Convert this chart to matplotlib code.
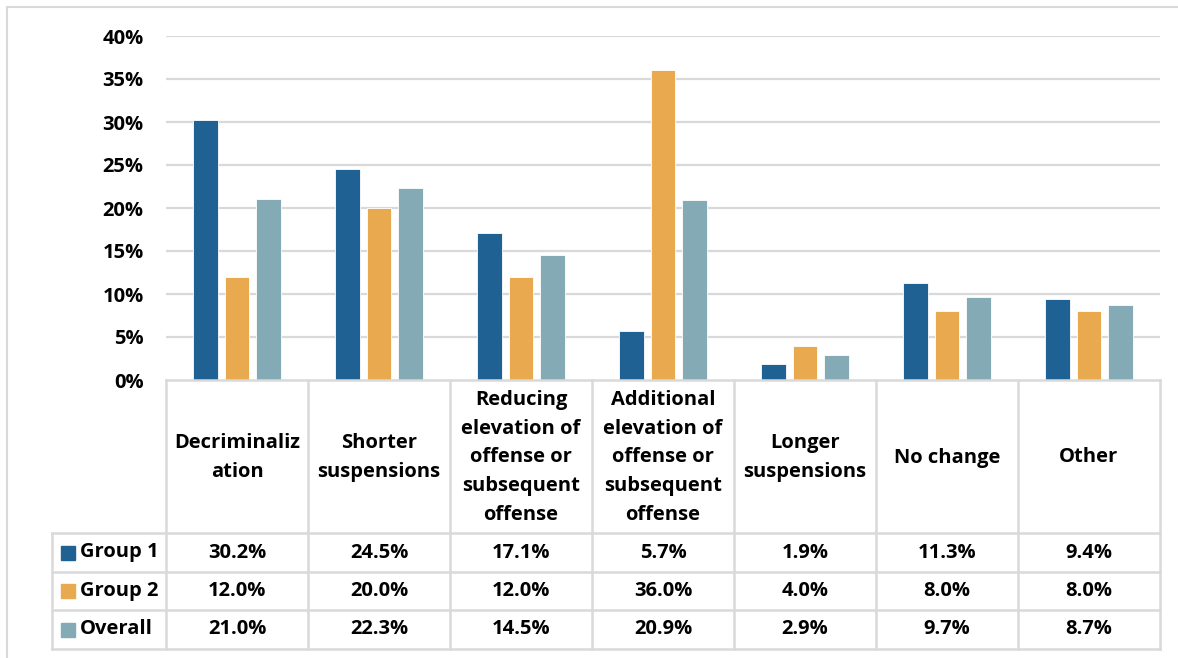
import matplotlib
matplotlib.use("Agg")
import matplotlib.pyplot as plt
from matplotlib.patches import Rectangle
from matplotlib.lines import Line2D

# ---- data -------------------------------------------------------------
categories = [
    "Decriminaliz\nation",
    "Shorter\nsuspensions",
    "Reducing\nelevation of\noffense or\nsubsequent\noffense",
    "Additional\nelevation of\noffense or\nsubsequent\noffense",
    "Longer\nsuspensions",
    "No change",
    "Other",
]
series_names = ["Group 1", "Group 2", "Overall"]
group1 = [30.2, 24.5, 17.1, 5.7, 1.9, 11.3, 9.4]
group2 = [12.0, 20.0, 12.0, 36.0, 4.0, 8.0, 8.0]
overall = [21.0, 22.3, 14.5, 20.9, 2.9, 9.7, 8.7]
y_ticks = [0, 5, 10, 15, 20, 25, 30, 35, 40]

series_values = [group1, group2, overall]
colors = ["#1E6192", "#E8A94F", "#84ABB5"]
grid_color = "#D9D9D9"

FONT = "Open Sans"
FS = 14.5

W, H = 1178, 658
fig = plt.figure(figsize=(W / 100, H / 100), dpi=100)


def fig_rect(x0, y0, x1, y1):
    """Axes rectangle from pixel coordinates (origin top-left)."""
    return [x0 / W, 1 - y1 / H, (x1 - x0) / W, (y1 - y0) / H]


# outer frame (only top/left edges fall inside the canvas)
fig.patches.append(Rectangle((7 / W, -0.05), 1.1, 1 - 7 / H + 0.05,
                             transform=fig.transFigure, fill=False,
                             edgecolor=grid_color, linewidth=1.5))

PLOT_L, PLOT_R, PLOT_T, PLOT_B = 166, 1160, 36, 380
ax = fig.add_axes(fig_rect(PLOT_L, PLOT_T, PLOT_R, PLOT_B))
n = len(categories)
ax.set_xlim(-0.5, n - 0.5)
ax.set_ylim(0, 40)
for t in y_ticks[1:]:
    ax.axhline(t, color=grid_color, linewidth=1.6, zorder=0)

offsets = [-0.225, 0.0, 0.225]
bar_w = 0.176
for vals, off, col in zip(series_values, offsets, colors):
    ax.bar([i + off for i in range(n)], vals, width=bar_w, color=col,
           edgecolor="white", linewidth=0.6, zorder=2)

ax.set_yticks(y_ticks)
ax.set_yticklabels([f"{t}%" for t in y_ticks], fontfamily=FONT,
                   fontweight="bold", fontsize=FS)
ax.tick_params(axis="y", length=0, pad=16)
ax.set_xticks([])
for s in ax.spines.values():
    s.set_visible(False)
ax.patch.set_alpha(0)

# ---- data table below the plot ---------------------------------------
TAB_B = 649
tax = fig.add_axes(fig_rect(PLOT_L, PLOT_B, PLOT_R, TAB_B))
tax.set_xlim(-0.5, n - 0.5)
tab_h = TAB_B - PLOT_B
tax.set_ylim(tab_h, 0)
tax.axis("off")

unit = (PLOT_R - PLOT_L) / n
label_left = -0.5 - (PLOT_L - 52) / unit
header_h = 153
row_edges = [header_h, header_h + 39, header_h + 77, tab_h]

lk = dict(color=grid_color, linewidth=1.8, clip_on=False, zorder=1,
          solid_capstyle="projecting")
# horizontal rules
tax.add_line(Line2D([-0.5, n - 0.5], [0, 0], **lk))
for y in row_edges:
    tax.add_line(Line2D([label_left, n - 0.5], [y, y], **lk))
# vertical rules
for i in range(n + 1):
    tax.add_line(Line2D([i - 0.5, i - 0.5], [0, tab_h], **lk))
tax.add_line(Line2D([label_left, label_left], [header_h, tab_h], **lk))

txt = dict(fontfamily=FONT, fontweight="bold", fontsize=FS,
           ha="center", va="center", clip_on=False)
for i, cat in enumerate(categories):
    tax.text(i, header_h / 2 + 1, cat, linespacing=1.58, **txt)

key_x = label_left + (68 - 52) / unit
name_x = label_left + (80 - 52) / unit
for r, (name, vals, col) in enumerate(zip(series_names, series_values, colors)):
    yc = (row_edges[r] + row_edges[r + 1]) / 2
    tax.plot([key_x], [yc], marker="s", markersize=10, color=col,
             linestyle="none", clip_on=False)
    tax.text(name_x, yc, name, fontfamily=FONT, fontweight="bold",
             fontsize=FS, ha="left", va="center", clip_on=False)
    for i, v in enumerate(vals):
        tax.text(i, yc, f"{v:.1f}%", **txt)

fig.savefig("out.png", dpi=100)
